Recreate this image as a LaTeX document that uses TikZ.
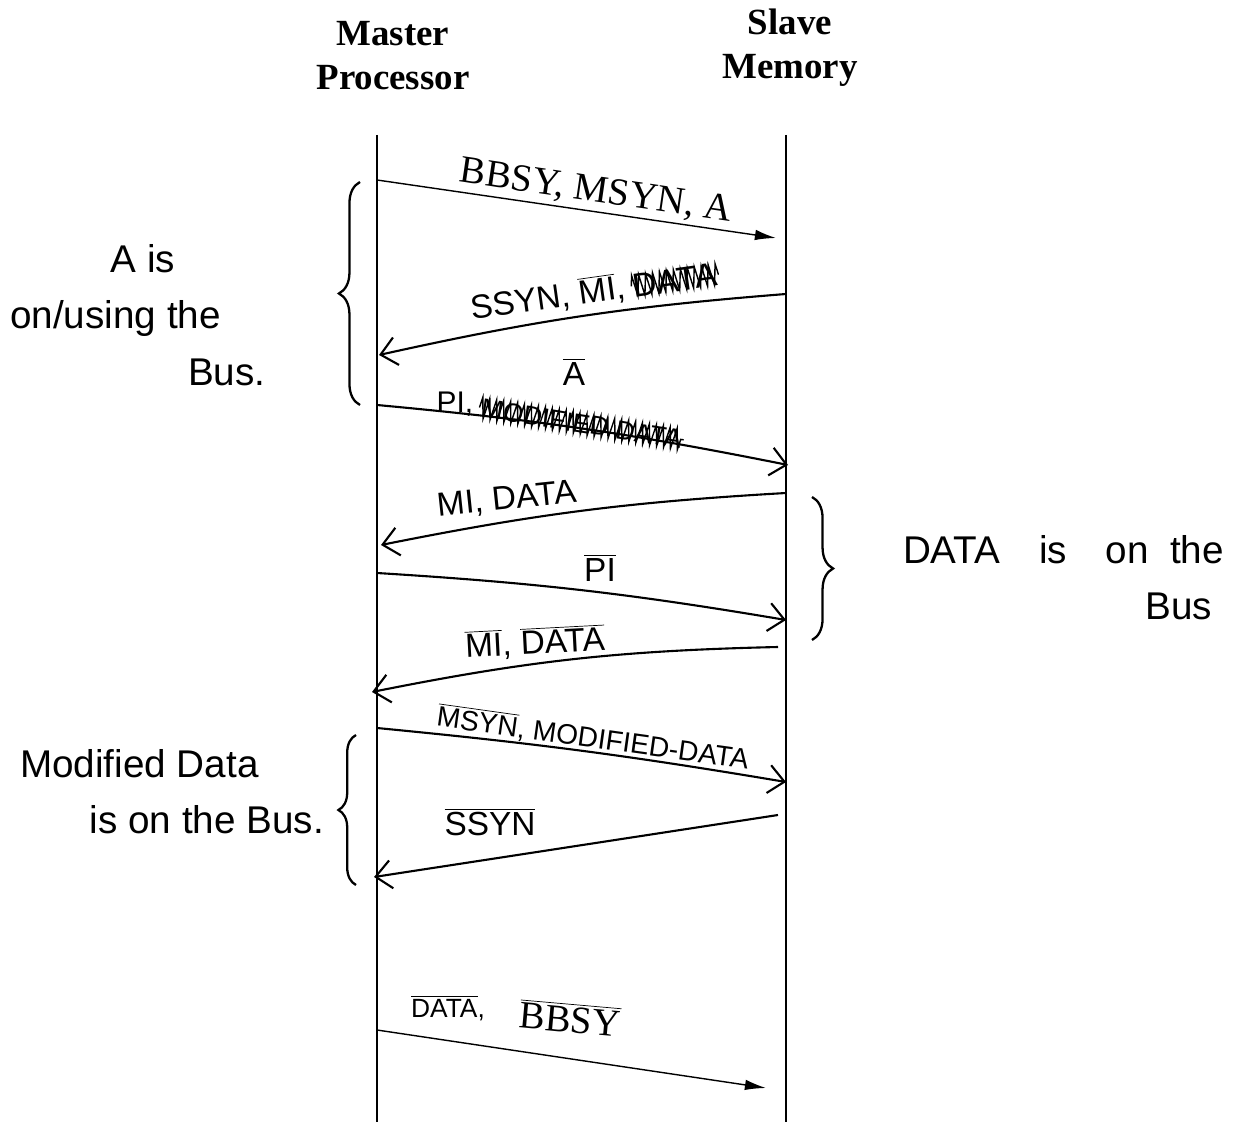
\documentclass[tikz,border=0pt]{standalone}
\usepackage{fontspec}
\setmainfont{Liberation Serif}
\setsansfont{Liberation Sans}
\usetikzlibrary{positioning, arrows.meta, calc, decorations.pathreplacing, decorations.pathmorphing}
\newcommand{\negsig}[1]{$\overline{\hbox{#1}}$}

\begin{document}
\begin{tikzpicture}[x=0.02cm, y=-0.02cm,
    title/.style={font=\bfseries\fontsize{21}{25}\selectfont, align=center},
    printed/.style={font=\rmfamily\upshape\fontsize{22}{26}\selectfont},
    hand/.style={font=\sffamily\fontsize{19}{23}\selectfont},
    note/.style={font=\sffamily\fontsize{22}{32}\selectfont},
    lifeline/.style={line width=0.9pt},
    msg/.style={line width=0.8pt, -{Latex[length=12pt,width=6pt]}},
    handmsg/.style={line width=1.2pt, -{Straight Barb[length=9pt,width=16pt,line width=1.2pt]}},
    busbrace/.style={line width=1.3pt, decorate, decoration={brace, amplitude=12pt}},
    scribble/.style={line width=0.8pt, decorate, decoration={zigzag, segment length=4pt, amplitude=6pt}}]

  \useasboundingbox (0,0) rectangle (1233,1124);

  \node[title] (master) at (393,56) {Master\\Processor};
  \node[title] (slave) at (790,48) {Slave\\Memory};

  \coordinate (mtop) at (377,135);
  \coordinate (mbot) at (377,1122);
  \coordinate (stop) at (786,135);
  \coordinate (sbot) at (786,1122);
  \draw[lifeline] (mtop) -- (mbot);
  \draw[lifeline] (stop) -- (sbot);

  % messages, top to bottom
  \coordinate (m1) at (377,180);
  \coordinate (s1) at (776,238);
  \draw[msg] (m1) -- (s1);
  \node[printed, rotate=-8.3] (l1) at (596,192) {BBSY, MSYN, A};

  \coordinate (s2) at (786,294);
  \coordinate (m2) at (379,355);
  \draw[handmsg] (s2) to[bend right=4] (m2);
  \node[hand, rotate=8] (l2) at (548,298) {SSYN, \negsig{MI},};
  \node[hand, rotate=8, anchor=west, inner xsep=1pt] (l2x) at (l2.east) {DATA};
  \draw[scribble] (l2x.west) -- (l2x.east);
  \node[hand] (l3a) at (574,372) {\negsig{A}};

  \coordinate (m3) at (377,405);
  \coordinate (s3) at (788,465);
  \draw[handmsg] (m3) to[bend left=3] (s3);
  \node[hand, font=\sffamily\fontsize{17}{20}\selectfont] (l3) at (455,404) {PI,};
  \node[hand, font=\sffamily\fontsize{15}{18}\selectfont, rotate=-9, anchor=west, inner xsep=1pt] (l3x) at ([yshift=-2pt]l3.east) {MODIFIED DATA};
  \draw[scribble] (l3x.west) -- (l3x.east);

  \coordinate (s4) at (786,493);
  \coordinate (m4) at (381,545);
  \draw[handmsg] (s4) to[bend right=4] (m4);
  \node[hand, rotate=6] (l4) at (507,500) {MI, DATA};

  \coordinate (m5) at (377,573);
  \coordinate (s5) at (786,620);
  \draw[handmsg] (m5) to[bend left=3] (s5);
  \node[hand] (l5) at (600,568) {\negsig{PI}};

  \coordinate (s6) at (778,647);
  \coordinate (m6) at (372,692);
  \draw[handmsg] (s6) to[bend right=5] (m6);
  \node[hand, rotate=3] (l6) at (535,643) {\negsig{MI}, \negsig{DATA}};

  \coordinate (m7) at (377,728);
  \coordinate (s7) at (786,782);
  \draw[handmsg] (m7) to[bend left=2] (s7);
  \node[hand, font=\sffamily\fontsize{16}{19}\selectfont, rotate=-8] (l7) at (593,738) {\negsig{MSYN}, MODIFIED-DATA};

  \coordinate (s8) at (778,815);
  \coordinate (m8) at (374,877);
  \draw[handmsg] (s8) -- (m8);
  \node[hand] (l8) at (490,822) {\negsig{SSYN}};

  \coordinate (m9) at (377,1030);
  \coordinate (s9) at (766,1088);
  \draw[msg] (m9) -- (s9);
  \node[hand, font=\sffamily\fontsize{15}{18}\selectfont] (l9a) at (448,1008) {\negsig{DATA},};
  \node[printed, rotate=-5] (l9) at (570,1018) {\negsig{BBSY}};

  % braces and notes
  \coordinate (b1top) at (360,182);
  \coordinate (b1bot) at (360,405);
  \draw[busbrace] (b1bot) -- (b1top);
  \node[note, align=left, anchor=west] (n1) at (4,315) {\hspace*{2.6em}A is\\on/using the\\\hspace*{4.6em}Bus.};

  \coordinate (b2top) at (812,497);
  \coordinate (b2bot) at (812,640);
  \draw[busbrace] (b2top) -- (b2bot);
  \node[note, align=right, anchor=east] (n2) at (1230,578) {DATA\quad is\quad on\ \ the\\Bus\hspace*{0.3em}};

  \coordinate (b3top) at (356,735);
  \coordinate (b3bot) at (356,885);
  \draw[busbrace, decoration={amplitude=10pt}] (b3bot) -- (b3top);
  \node[note, align=left] (n3) at (172,792) {Modified Data\\\hspace*{1.8em}is on the Bus.};
\end{tikzpicture}
\end{document}
